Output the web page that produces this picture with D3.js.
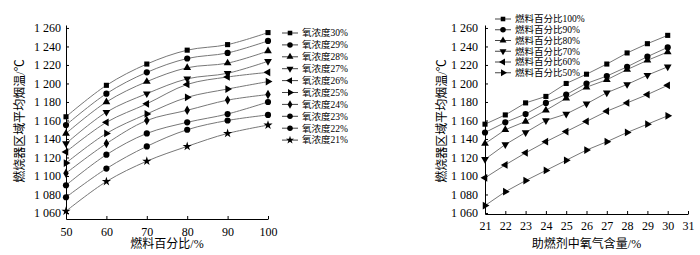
<!DOCTYPE html>
<html>
<head>
<meta charset="utf-8">
<script src="https://cdn.jsdelivr.net/npm/d3@7"></script>
<style>
  body { margin: 0; background: #fff; }
  text { font-family: "Liberation Serif", "Noto Sans CJK SC", serif; fill: #000; }
</style>
</head>
<body>
<div id="chart"></div>
<script>
// left panel: fuel percentage vs temperature, one series per oxygen concentration
var fuelPct = [50, 60, 70, 80, 90, 100];
var oxyNames = ["氧浓度30%", "氧浓度29%", "氧浓度28%", "氧浓度27%", "氧浓度26%",
                "氧浓度25%", "氧浓度24%", "氧浓度23%", "氧浓度22%", "氧浓度21%"];
var oxy30 = [1164, 1198, 1221, 1236, 1242, 1255];
var oxy29 = [1155, 1189, 1212, 1227, 1233, 1246];
var oxy28 = [1146, 1180, 1202, 1217, 1222, 1235];
var oxy27 = [1135, 1169, 1189, 1205, 1211, 1224];
var oxy26 = [1126, 1158, 1178, 1199, 1207, 1212];
var oxy25 = [1114, 1146, 1167, 1185, 1194, 1202];
var oxy24 = [1103, 1135, 1160, 1171, 1182, 1188];
var oxy23 = [1090, 1123, 1146, 1158, 1167, 1180];
var oxy22 = [1077, 1108, 1132, 1150, 1160, 1166];
var oxy21 = [1062, 1094, 1116, 1132, 1146, 1155];

// right panel: oxygen content vs temperature, one series per fuel percentage
var oxyPct = [21, 22, 23, 24, 25, 26, 27, 28, 29, 30];
var fuelNames = ["燃料百分比100%", "燃料百分比90%", "燃料百分比80%",
                 "燃料百分比70%", "燃料百分比60%", "燃料百分比50%"];
var fuel100 = [1156, 1166, 1179, 1186, 1200, 1210, 1221, 1233, 1243, 1252];
var fuel90  = [1147, 1158, 1167, 1179, 1188, 1200, 1208, 1218, 1229, 1239];
var fuel80  = [1135, 1150, 1159, 1171, 1184, 1196, 1204, 1215, 1225, 1234];
var fuel70  = [1118, 1134, 1147, 1160, 1167, 1178, 1190, 1199, 1209, 1218];
var fuel60  = [1098, 1112, 1125, 1137, 1148, 1159, 1170, 1179, 1188, 1198];
var fuel50  = [1068, 1083, 1095, 1106, 1117, 1128, 1137, 1147, 1156, 1165];

var tempTicks = [1060, 1080, 1100, 1120, 1140, 1160, 1180, 1200, 1220, 1240, 1260];
var leftXTicks = [50, 60, 70, 80, 90, 100];
var rightXTicks = [21, 22, 23, 24, 25, 26, 27, 28, 29, 30, 31];

var leftSeries = [oxy30, oxy29, oxy28, oxy27, oxy26, oxy25, oxy24, oxy23, oxy22, oxy21];
var rightSeries = [fuel100, fuel90, fuel80, fuel70, fuel60, fuel50];

// marker shapes: symbol + rotation
var sq = {s: d3.symbolSquare, r: 0, size: 26},
    ci = {s: d3.symbolCircle, r: 0, size: 30},
    up = {s: d3.symbolTriangle, r: 0, size: 26},
    dn = {s: d3.symbolTriangle, r: 180, size: 26},
    lf = {s: d3.symbolTriangle, r: -90, size: 26},
    rt = {s: d3.symbolTriangle, r: 90, size: 26},
    di = {s: d3.symbolDiamond, r: 0, size: 26},
    st = {s: d3.symbolStar, r: 0, size: 26};
var leftMarks = [sq, ci, up, dn, lf, rt, di, ci, ci, st];
var rightMarks = [sq, ci, up, dn, lf, rt];

var svg = d3.select("#chart").append("svg")
    .attr("width", 700)
    .attr("height", 255);

var tempFmt = function(d) { return d3.format(",")(d).replace(",", " "); };

function panel(opt) {
    var g = svg.append("g");
    var x = d3.scaleLinear().domain(opt.xDomain).range(opt.xRange);
    var y = d3.scaleLinear().domain(opt.yDomain).range(opt.yRange);

    var xa = g.append("g")
        .attr("transform", "translate(0," + opt.yRange[0] + ")")
        .call(d3.axisBottom(x).tickValues(opt.xTicks).tickSizeInner(-3).tickSizeOuter(0)
              .tickPadding(opt.xPad));
    var ya = g.append("g")
        .attr("transform", "translate(" + opt.xRange[0] + ",0)")
        .call(d3.axisLeft(y).tickValues(tempTicks).tickFormat(tempFmt)
              .tickSizeInner(-3).tickSizeOuter(0).tickPadding(opt.yPad));
    [xa, ya].forEach(function(a) {
        a.selectAll("text").style("font-size", "12px").style("font-family", null);
        a.select(".domain").attr("stroke", "#000");
        a.attr("font-family", null);
    });

    var line = d3.line()
        .x(function(d, i) { return x(opt.xs[i]); })
        .y(function(d) { return y(d); })
        .curve(opt.curve);

    opt.series.forEach(function(vals, k) {
        g.append("path")
            .attr("d", line(vals))
            .attr("fill", "none")
            .attr("stroke", "#777")
            .attr("stroke-width", 1);
    });
    opt.series.forEach(function(vals, k) {
        var m = opt.marks[k];
        g.selectAll(null)
            .data(vals)
            .enter()
            .append("path")
            .attr("d", d3.symbol().type(m.s).size(m.size))
            .attr("transform", function(d, i) {
                return "translate(" + x(opt.xs[i]) + "," + y(d) + ") rotate(" + m.r + ")";
            })
            .attr("fill", "#000");
    });

    // legend
    var lg = g.append("g");
    opt.names.forEach(function(name, k) {
        var ly = opt.legY + k * opt.legStep;
        var m = opt.marks[k];
        lg.append("line")
            .attr("x1", opt.legX).attr("x2", opt.legX + 16)
            .attr("y1", ly).attr("y2", ly)
            .attr("stroke", "#444");
        lg.append("path")
            .attr("d", d3.symbol().type(m.s).size(m.size * 0.8))
            .attr("transform", "translate(" + (opt.legX + 8) + "," + ly + ") rotate(" + m.r + ")")
            .attr("fill", "#000");
        lg.append("text")
            .attr("x", opt.legX + 20)
            .attr("y", ly)
            .attr("dy", "0.35em")
            .style("font-size", "9.5px")
            .text(name);
    });

    g.append("text")
        .attr("x", (opt.xRange[0] + opt.xRange[1]) / 2)
        .attr("y", opt.xTitleY)
        .attr("text-anchor", "middle")
        .style("font-size", "12px")
        .text(opt.xTitle);
    g.append("text")
        .attr("transform", "translate(" + opt.yTitleX + ",121) rotate(-90)")
        .attr("text-anchor", "middle")
        .style("font-size", "12px")
        .text("燃烧器区域平均烟温/℃");
}

panel({
    xs: fuelPct, series: leftSeries, marks: leftMarks, names: oxyNames,
    xDomain: [50, 100], xRange: [66, 268], xTicks: leftXTicks,
    yDomain: [1053.5, 1263.2], yRange: [219, 25],
    xPad: 8, yPad: 5,
    curve: d3.curveCatmullRom,
    legX: 282, legY: 33, legStep: 11.9,
    xTitle: "燃料百分比/%", xTitleY: 248, yTitleX: 24
});

panel({
    xs: oxyPct, series: rightSeries, marks: rightMarks, names: fuelNames,
    xDomain: [21, 31], xRange: [485, 688], xTicks: rightXTicks,
    yDomain: [1058.9, 1263.2], yRange: [214, 25],
    xPad: 7, yPad: 7,
    curve: d3.curveLinear,
    legX: 495, legY: 19, legStep: 10.75,
    xTitle: "助燃剂中氧气含量/%", xTitleY: 248, yTitleX: 446
});
</script>
</body>
</html>
